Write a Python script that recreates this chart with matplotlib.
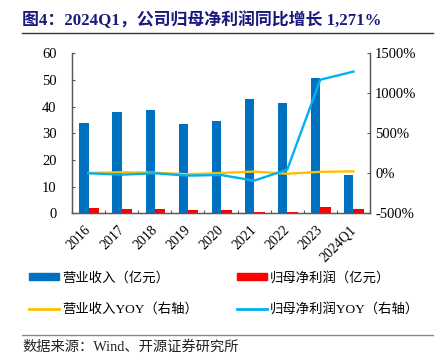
import matplotlib
matplotlib.use("Agg")
import matplotlib.pyplot as plt
import matplotlib.transforms as mtransforms
import numpy as np

plt.rcParams['font.family'] = ['Liberation Serif', 'Noto Sans CJK SC', 'DejaVu Sans']

# data
years = ['2016', '2017', '2018', '2019', '2020', '2021', '2022', '2023', '2024Q1']
revenue = [33.7, 37.9, 38.7, 33.4, 34.6, 42.8, 41.3, 50.6, 14.4]      # 亿元
net_profit = [2.1, 1.7, 1.7, 1.2, 1.2, 0.6, 0.6, 2.4, 1.7]           # 亿元
revenue_yoy = [4, 13, 8, -12, 4, 22, -5, 18, 25]                      # %
profit_yoy = [0, -17, 0, -29, -21, -92, 46, 1170, 1271]               # %

c_rev = '#0070C0'
c_np = '#FF0000'
c_rev_yoy = '#FFC000'
c_np_yoy = '#00B0F0'
axis_col = '#595959'

fig = plt.figure(figsize=(4.4, 3.55), dpi=100)
ax = fig.add_axes([72 / 440, 1 - 213.3 / 355, 298 / 440, 160 / 355])
ax2 = ax.twinx()

x = np.arange(len(years))
ax.bar(x - 0.14, revenue, width=0.28, color=c_rev, zorder=2)
ax.bar(x + 0.16, net_profit, width=0.32, color=c_np, zorder=2)
ax2.plot(x, revenue_yoy, color=c_rev_yoy, lw=1.7, zorder=3)
ax2.plot(x, profit_yoy, color=c_np_yoy, lw=1.7, zorder=4)

ax.set_xlim(-0.5, len(years) - 0.5)
ax.set_ylim(0, 60)
ax.set_yticks(range(0, 61, 10))
ax2.set_ylim(-500, 1500)
ax2.set_yticks(range(-500, 1501, 500))
ax2.set_yticklabels([f'{v}%' for v in range(-500, 1501, 500)])

# category ticks at the boundaries, labels at the centres
ax.set_xticks(np.arange(-0.5, len(years) + 0.5, 1))
ax.set_xticklabels([])
ax.set_xticks(x, minor=True)
ax.set_xticklabels(years, minor=True, rotation=45, ha='right', fontsize=10)
ax.tick_params(axis='x', which='minor', length=0, pad=7)
ax.tick_params(axis='x', which='major', direction='in', length=2.5, color=axis_col)
offset = mtransforms.ScaledTranslation(5 / 100, 0, fig.dpi_scale_trans)
for lab in ax.get_xticklabels(minor=True):
    lab.set_transform(lab.get_transform() + offset)

ax.tick_params(axis='y', direction='in', length=2.5, pad=11, labelsize=10.5, color=axis_col)
ax2.tick_params(axis='y', direction='in', length=2.5, pad=3.6, labelsize=10.5, color=axis_col)

for a in (ax, ax2):
    a.spines['top'].set_visible(False)
    for s in ('left', 'right', 'bottom'):
        a.spines[s].set_color(axis_col)
        a.spines[s].set_linewidth(0.9)

# title and rules
fig.text(22 / 440, 1 - 20 / 355, '图4：2024Q1，公司归母净利润同比增长 1,271%',
         fontsize=12.2, fontweight='bold', color='#1a1a7e', va='center', ha='left')
fig.add_artist(plt.Line2D([22 / 440, 433 / 440], [1 - 32.5 / 355] * 2,
                          color='#333333', lw=1))
fig.add_artist(plt.Line2D([22 / 440, 433 / 440], [1 - 335 / 355] * 2,
                          color='#888888', lw=1))
fig.text(22 / 440, 1 - 347 / 355, '数据来源：Wind、开源证券研究所',
         fontsize=10.3, color='#222222', va='center', ha='left')

# legend (column-wise fill: blue/yellow, red/cyan)
handles = [
    plt.Rectangle((0, 0), 1, 1, color=c_rev),
    plt.Line2D([], [], color=c_rev_yoy, lw=2),
    plt.Rectangle((0, 0), 1, 1, color=c_np),
    plt.Line2D([], [], color=c_np_yoy, lw=2),
]
labels = ['营业收入（亿元）', '营业收入YOY（右轴）', '归母净利润（亿元）', '归母净利润YOY（右轴）']
fig.legend(handles, labels, ncol=2, loc='upper left',
           bbox_to_anchor=(24 / 440, 1 - 266 / 355), frameon=False,
           fontsize=9.6, handlelength=2.25, handleheight=0.4, handletextpad=0.25,
           columnspacing=2.85, labelspacing=1.4, borderaxespad=0)

fig.savefig('out.png', dpi=100)
